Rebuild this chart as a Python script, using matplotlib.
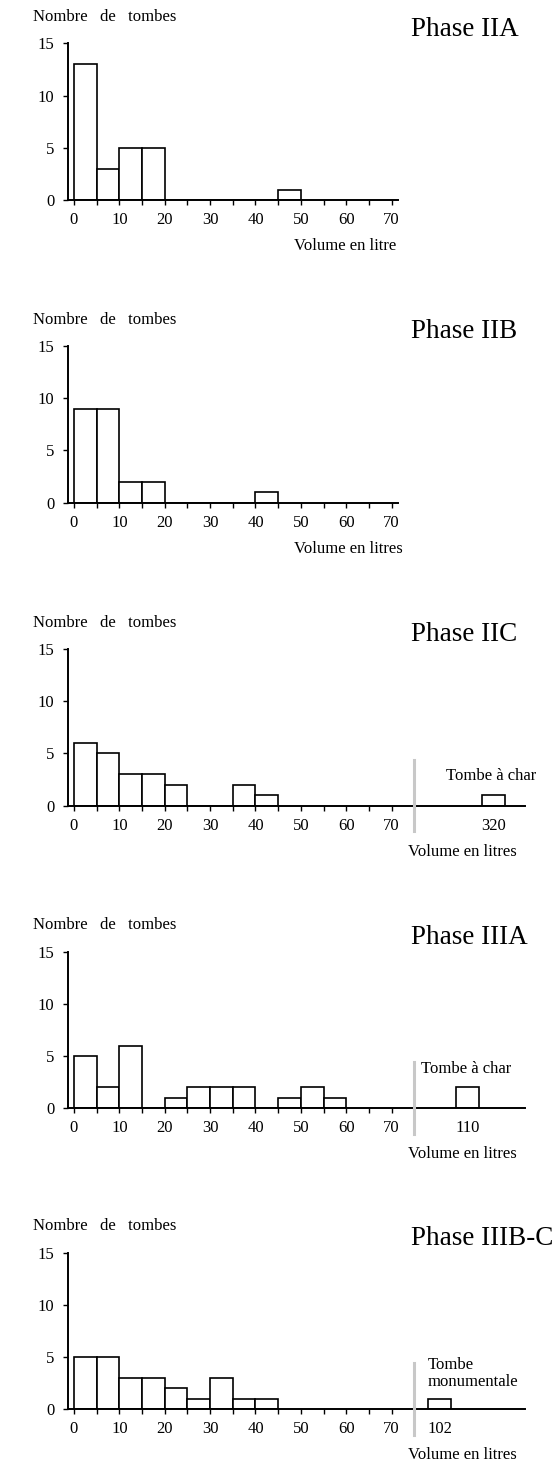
import matplotlib
matplotlib.use('agg')
import matplotlib.pyplot as plt
import numpy as np

plt.rcParams['font.family'] = ['Liberation Serif', 'DejaVu Serif']

# bin left edges (5 l bins) and counts
phases = ['Phase IIA', 'Phase IIB', 'Phase IIC', 'Phase IIIA', 'Phase IIIB-C']
counts_IIA = [13, 3, 5, 5, 0, 0, 0, 0, 0, 1]
counts_IIB = [9, 9, 2, 2, 0, 0, 0, 0, 1]
counts_IIC = [6, 5, 3, 3, 2, 0, 0, 2, 1]
counts_IIIA = [5, 2, 6, 0, 1, 2, 2, 2, 0, 1, 2, 1]
counts_IIIBC = [5, 5, 3, 3, 2, 1, 3, 1, 1]
counts = [counts_IIA, counts_IIB, counts_IIC, counts_IIIA, counts_IIIBC]

# outliers shown after the break: (label, count, bar start on the axis)
outliers = [None, None, ('320', 1, 90), ('110', 2, 84.3), ('102', 1, 78)]
outlier_notes = [None, None, 'Tombe à char', 'Tombe à char', 'Tombe\nmonumentale']
xlabels = ['Volume en litre', 'Volume en litres', 'Volume en litres',
           'Volume en litres', 'Volume en litres']

W, H = 557, 1465
fig = plt.figure(figsize=(W/100, H/100), dpi=100)

zero_px = [200, 502.7, 805.7, 1108.3, 1409.3]
ax_h = 156.7
left_px, right_px = 67.5, 525
xmin, xmax = -1.43, 99.4
ppu = (right_px - left_px) / (xmax - xmin)   # px per x unit
ypu = ax_h / 15.0

for i in range(5):
    z = zero_px[i]
    ax = fig.add_axes([left_px/W, 1 - z/H, (right_px-left_px)/W, ax_h/H])
    c = counts[i]
    edges = np.arange(len(c)) * 5
    ax.bar(edges, c, width=5, align='edge', facecolor='white',
           edgecolor='black', linewidth=1.2, zorder=3)
    ax.set_xlim(xmin, xmax)
    ax.set_ylim(0, 15)
    ax.spines['top'].set_visible(False)
    ax.spines['right'].set_visible(False)
    ax.spines['left'].set_bounds(0, 15)
    ax.spines['left'].set_linewidth(1.4)
    ax.spines['bottom'].set_linewidth(1.4)
    ax.spines['bottom'].set_zorder(4)
    ax.set_yticks([0, 5, 10, 15])
    ax.tick_params(axis='y', length=3.5, width=1, pad=6, labelsize=12)

    ticks = list(range(0, 75, 5))
    labels = [str(t) if t % 10 == 0 else '' for t in ticks]
    if outliers[i] is not None:
        lab, n, x0 = outliers[i]
        ax.bar([x0], [n], width=5, align='edge', facecolor='white',
               edgecolor='black', linewidth=1.2, zorder=3)
        pos = x0 if lab == '102' else x0 + 2.5
        ticks.append(pos)
        labels.append(lab)
        ax.plot([75, 75], [-2.45, 4.4], color='#c8c8c8', lw=2.2,
                clip_on=False, zorder=5)
    else:
        ax.spines['bottom'].set_bounds(xmin, 71.4)
    ax.set_xticks(ticks)
    ax.set_xticklabels(labels)
    ax.tick_params(axis='x', length=3.5, width=1, pad=5, labelsize=12)
    if outliers[i] is not None:
        t = ax.xaxis.get_major_ticks()[-1]
        t.tick1line.set_visible(False)
        if outliers[i][0] == '102':
            t.label1.set_horizontalalignment('left')

    # texts
    fig.text(33/W, 1 - (z - 183)/H, 'Nombre   de   tombes', fontsize=12,
             ha='left', va='center')
    fig.text(411/W, 1 - (z - 171)/H, phases[i], fontsize=19.5,
             ha='left', va='center')
    if i < 2:
        fig.text(294/W, 1 - (z + 46)/H, xlabels[i], fontsize=12,
                 ha='left', va='center')
    else:
        fig.text(408/W, 1 - (z + 46)/H, xlabels[i], fontsize=12,
                 ha='left', va='center')

    note = outlier_notes[i]
    if note == 'Tombe à char' and i == 2:
        ax.text(82, 2.8, note, fontsize=12, ha='left', va='center')
    elif note == 'Tombe à char':
        ax.text(76.5, 3.75, note, fontsize=12, ha='left', va='center')
    elif note is not None:
        ax.text(78, 3.4, note, fontsize=12, ha='left', va='center',
                linespacing=1.1)

fig.savefig('out.png', dpi=100)
